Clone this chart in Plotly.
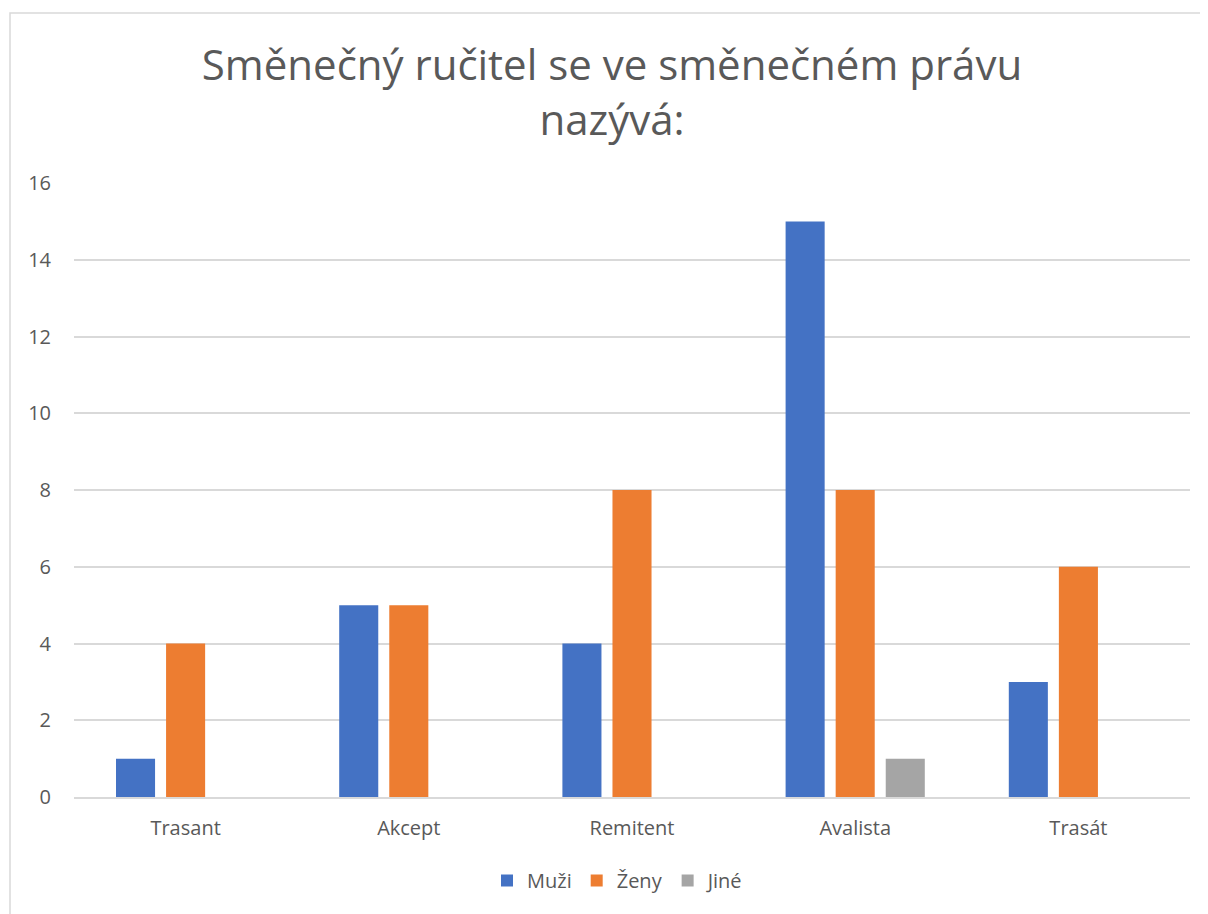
import plotly.graph_objects as go

CATEGORIES = ["Trasant", "Akcept", "Remitent", "Avalista", "Trasát"]
MUZI = [1, 5, 4, 15, 3]
ZENY = [4, 5, 8, 8, 6]
JINE = [0, 0, 0, 1, 0]
Y_TICKS = [0, 2, 4, 6, 8, 10, 12, 14, 16]

TITLE = "Směnečný ručitel se ve směnečném právu<br>nazývá:"

BLUE = "#4472C4"
ORANGE = "#ED7D31"
GREY = "#A5A5A5"
TEXT = "#595959"
GRID = "#D9D9D9"
FONT = "Open Sans, sans-serif"

# the page body has an 8px margin, so the figure is drawn 8px in from the corner
OFF = 8
W, H = 1208 - OFF, 914 - OFF
M_L, M_R, M_T, M_B = 74 - OFF, 18, 183 - OFF, 117

fig = go.Figure()
for name, vals, col in [("Muži", MUZI, BLUE), ("Ženy", ZENY, ORANGE), ("Jiné", JINE, GREY)]:
    fig.add_trace(go.Bar(name=name, x=CATEGORIES, y=vals, marker_color=col,
                         marker_line_width=0))

# chart-area border (Excel style), drawn in paper coords
pw, ph = W - M_L - M_R, H - M_T - M_B
fig.add_shape(type="rect", xref="paper", yref="paper",
              x0=(10 - OFF - M_L) / pw, x1=(W + 20 - M_L) / pw,
              y0=-(M_B + 20) / ph, y1=1 + (M_T - (13 - OFF)) / ph,
              line=dict(color=GRID, width=1.5), fillcolor="rgba(0,0,0,0)", layer="below")

fig.update_layout(
    width=W, height=H,
    paper_bgcolor="white", plot_bgcolor="white",
    font=dict(family=FONT, color=TEXT, size=20),
    title=dict(text=TITLE, x=(612 - OFF) / W, xref="container", xanchor="center",
               y=1 - (80 - OFF) / H, yanchor="top",
               font=dict(size=42, color=TEXT, family=FONT)),
    margin=dict(l=M_L, r=M_R, t=M_T, b=M_B, autoexpand=False),
    barmode="group", bargap=0.327, bargroupgap=0.22,
    xaxis=dict(showgrid=False, showline=True, linecolor=GRID, linewidth=1.5,
               ticks="", ticklabelstandoff=12, tickfont=dict(size=20, color=TEXT)),
    yaxis=dict(range=[0, 16], tickvals=Y_TICKS, gridcolor=GRID, gridwidth=1.5,
               zeroline=False, showline=False, ticks="", ticklabelstandoff=22,
               tickfont=dict(size=20, color=TEXT)),
    legend=dict(orientation="h", x=(618 - OFF - M_L) / pw, xanchor="center",
                y=-(861 - 797) / ph, yanchor="top", font=dict(size=20, color=TEXT),
                itemwidth=30, traceorder="normal"),
    showlegend=True,
)

fig.write_html("out.html")
